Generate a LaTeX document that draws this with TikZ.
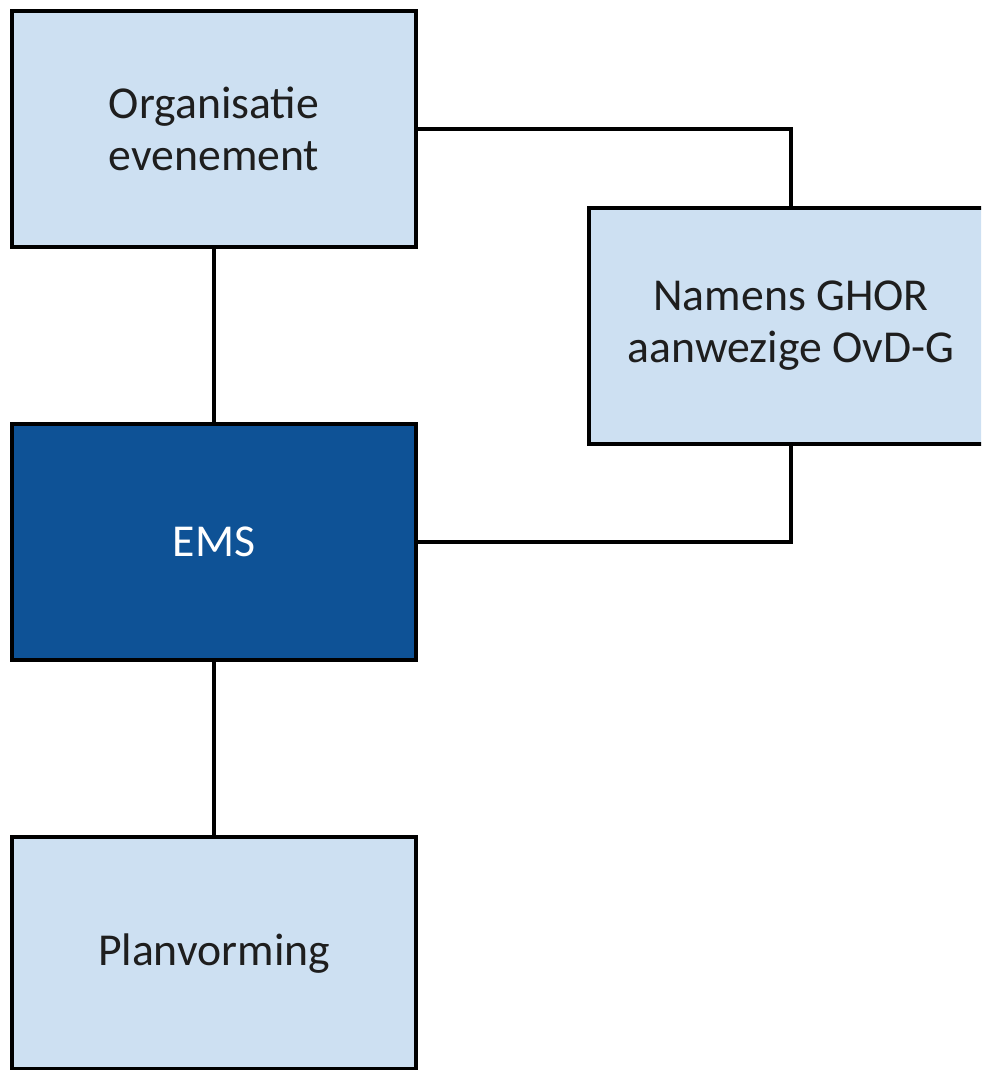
\documentclass[tikz,border=0pt]{standalone}
\usepackage{fontspec}
\setmainfont{Carlito}
\usetikzlibrary{positioning}
\definecolor{boxfill}{RGB}{205,224,242}
\definecolor{emsfill}{RGB}{14,82,150}
\definecolor{boxtext}{RGB}{30,30,30}
\tikzset{
  box/.style={draw=black, line width=2.3pt, fill=boxfill, text=boxtext,
    minimum width=8.08cm, minimum height=4.72cm, align=center,
    font=\fontsize{26}{29.5}\selectfont},
  emsbox/.style={box, fill=emsfill, text=white},
  link/.style={draw=black, line width=2.3pt}
}

\begin{document}
\begin{tikzpicture}

\useasboundingbox (0,0) rectangle (19.62,-21.4);
\clip (0,0) rectangle (19.62,-21.4);

% Define nodes
\node[box]                        (org)  at (4.28,-2.58) {Organisatie\\evenement};
\node[emsbox, below=3.46cm of org] (ems)  {EMS};
\node[box, minimum height=4.64cm, below=3.46cm of ems] (plan) {Planvorming};
\node[box, anchor=north west]     (ghor) at ([xshift=3.38cm,yshift=-3.94cm]org.north east) {Namens GHOR\\aanwezige OvD-G};

% Connect the nodes
\draw[link] (org) -- (ems);
\draw[link] (ems) -- (plan);
\draw[link] (org.east) -| (ghor.north);
\draw[link] (ems.east) -| (ghor.south);

\end{tikzpicture}
\end{document}
